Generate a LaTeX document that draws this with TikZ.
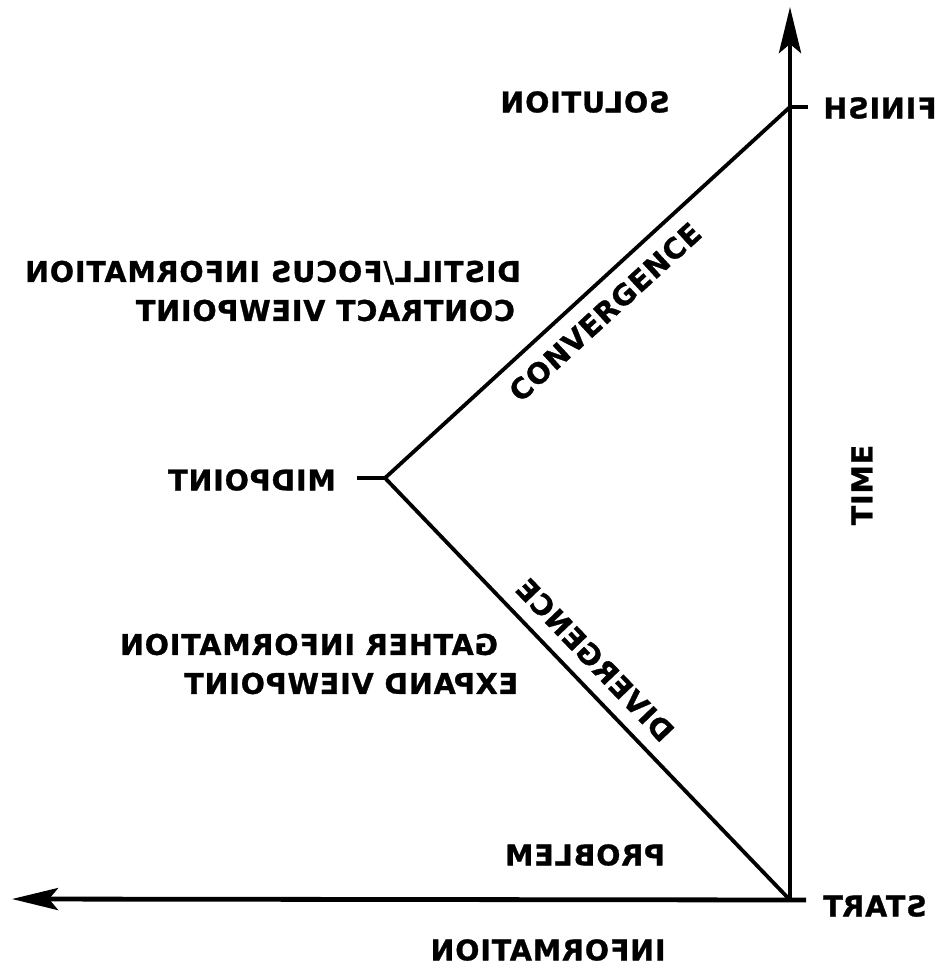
\documentclass[tikz,border=0pt]{standalone}
\usepackage{fontspec}
\newfontfamily\lblfont[LetterSpace=3, FakeBold=1]{DejaVu Sans}
\usetikzlibrary{arrows.meta}
\tikzset{
  axisline/.style={line width=4.8pt, -{Stealth[length=46pt, width=22pt, inset=9pt]}},
  tick/.style={line width=4.8pt},
  leg/.style={line width=3.8pt},
  lbl/.style={font=\lblfont\bfseries\fontsize{28.5}{39}\selectfont, inner sep=0pt},
  mirror/.style={xscale=-1, transform shape}
}
\begin{document}
\begin{tikzpicture}[x=1pt, y=-1pt]
  \useasboundingbox (0,0) rectangle (944,971);
  % corners
  \coordinate (start) at (790,900);
  \coordinate (finish) at (790,107);
  \coordinate (mid) at (385,478);
  \coordinate (timetip) at (790,7);
  \coordinate (infotip) at (12,899);
  \coordinate (startend) at (806,900);
  \coordinate (finishend) at (808,107);
  \coordinate (midend) at (357,478);
  % axes
  \draw[axisline] ([yshift=2pt]start) -- (timetip);
  \draw[axisline] (startend) -- (infotip);
  % ticks
  \draw[tick] (finish) -- (finishend);
  \draw[tick] (mid) -- (midend);
  % divergence / convergence
  \draw[leg] (start) -- (mid) -- (finish);
  % labels
  \node[lbl, mirror] (solution) at (585,102) {SOLUTION};
  \node[lbl, mirror] (finishlbl) at (880,108) {FINISH};
  \node[lbl, mirror, align=left] (distill) at (273,291)
    {DISTILL/FOCUS INFORMATION\\\hspace*{6pt}CONTRACT VIEWPOINT};
  \node[lbl, rotate=42.5] (conv) at (605,312) {CONVERGENCE};
  \node[lbl, mirror] (midlbl) at (252,480) {MIDPOINT};
  \node[lbl, rotate=90] (time) at (862,485) {TIME};
  \node[lbl, rotate=-46.2, mirror] (div) at (595,660) {DIVERGENCE};
  \node[lbl, mirror, align=left] (expand) at (319,664)
    {\hspace*{20pt}GATHER INFORMATION\\EXPAND VIEWPOINT};
  \node[lbl, mirror] (problem) at (585,855) {PROBLEM};
  \node[lbl, mirror] (startlbl) at (875,906) {START};
  \node[lbl, mirror] (info) at (548,950) {INFORMATION};
\end{tikzpicture}
\end{document}
